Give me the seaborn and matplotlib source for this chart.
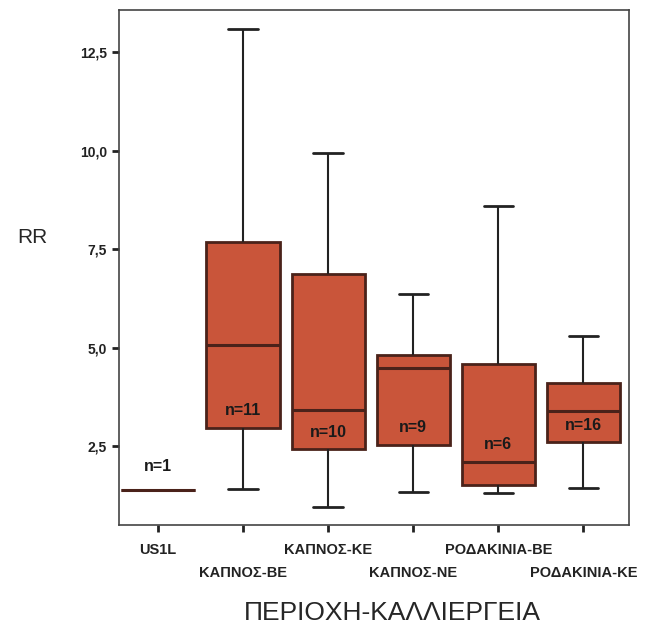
import pandas as pd
import numpy as np
import matplotlib
matplotlib.use('Agg')
import matplotlib.pyplot as plt
import seaborn as sns

# categories and five-number summaries (low whisker, Q1, median, Q3, high whisker)
categories = ['US1L', 'ΚΑΠΝΟΣ-ΒΕ', 'ΚΑΠΝΟΣ-ΚΕ', 'ΚΑΠΝΟΣ-ΝΕ', 'ΡΟΔΑΚΙΝΙΑ-ΒΕ', 'ΡΟΔΑΚΙΝΙΑ-ΚΕ']
us1l = [1.38]
kapnos_be = [1.41, 2.96, 5.06, 7.68, 13.08]
kapnos_ke = [0.95, 2.42, 3.41, 6.87, 9.94]
kapnos_ne = [1.33, 2.53, 4.48, 4.81, 6.36]
rodakinia_be = [1.31, 1.51, 2.09, 4.58, 8.59]
rodakinia_ke = [1.43, 2.60, 3.39, 4.10, 5.29]
n_counts = [1, 11, 10, 9, 6, 16]
y_ticks = [2.5, 5.0, 7.5, 10.0, 12.5]

series = [us1l, kapnos_be, kapnos_ke, kapnos_ne, rodakinia_be, rodakinia_ke]
rows = []
for cat, vals in zip(categories, series):
    for v in vals:
        rows.append({'group': cat, 'RR': v})
df = pd.DataFrame(rows)

sns.set_style('ticks')
plt.rcParams['font.family'] = ['Liberation Sans', 'DejaVu Sans']

fig = plt.figure(figsize=(6.46, 6.32), dpi=100)
ax = fig.add_axes([0.184, 0.169, 0.79, 0.815])

box_color = '#c9553a'
edge = '#4a221a'
sns.boxplot(data=df, x='group', y='RR', order=categories, whis=(0, 100),
            width=0.86, color=box_color, linecolor=edge, linewidth=2,
            saturation=1, ax=ax,
            whiskerprops={'color': '#222222', 'linewidth': 1.5},
            capprops={'color': '#222222', 'linewidth': 2},
            medianprops={'color': edge, 'linewidth': 2.2})

# shorten the whisker caps a bit
for ln in ax.lines:
    xd, yd = np.asarray(ln.get_xdata(), float), np.asarray(ln.get_ydata(), float)
    if len(xd) == 2 and yd[0] == yd[1] and 0 < abs(xd[1] - xd[0]) < 0.6:
        c = xd.mean()
        ln.set_xdata(c + (xd - c) * 0.8)

# n= labels inside the boxes
for i, (vals, n) in enumerate(zip(series, n_counts)):
    if len(vals) == 1:
        ypos = vals[0] + 0.6
    else:
        lo, q1, med, q3, hi = vals
        ypos = med + 0.44 if med - q1 < 0.7 else q1 + 0.43
    ax.text(i, ypos, f'n={n}', ha='center', va='center', fontsize=11.5,
            fontweight='bold', color='#1a1a1a')

ax.set_ylim(0.49, 13.57)
ax.set_xlim(-0.46, 5.54)
ax.set_yticks(y_ticks)
ax.set_yticklabels([f'{t:.1f}'.replace('.', ',') for t in y_ticks],
                   fontsize=10, fontweight='bold')
ax.set_xticks(range(len(categories)))
ax.set_xticklabels(categories, fontsize=10.5, fontweight='bold')
for i, lab in enumerate(ax.get_xticklabels()):
    if i % 2 == 1:
        lab.set_y(-0.045)

ax.tick_params(axis='both', direction='out', length=5, width=2, color='#222222',
               labelcolor='#222222')
ax.tick_params(axis='x', pad=8)
for s in ax.spines.values():
    s.set_visible(True)
    s.set_color('#444444')
    s.set_linewidth(1.2)

ax.set_xlabel('ΠΕΡΙΟΧΗ-ΚΑΛΛΙΕΡΓΕΙΑ', fontsize=19)
ax.xaxis.set_label_coords(0.535, -0.148)
ax.set_ylabel('RR', fontsize=15, rotation=0)
ax.yaxis.set_label_coords(-0.17, 0.54)

fig.savefig('out.png', dpi=100)
